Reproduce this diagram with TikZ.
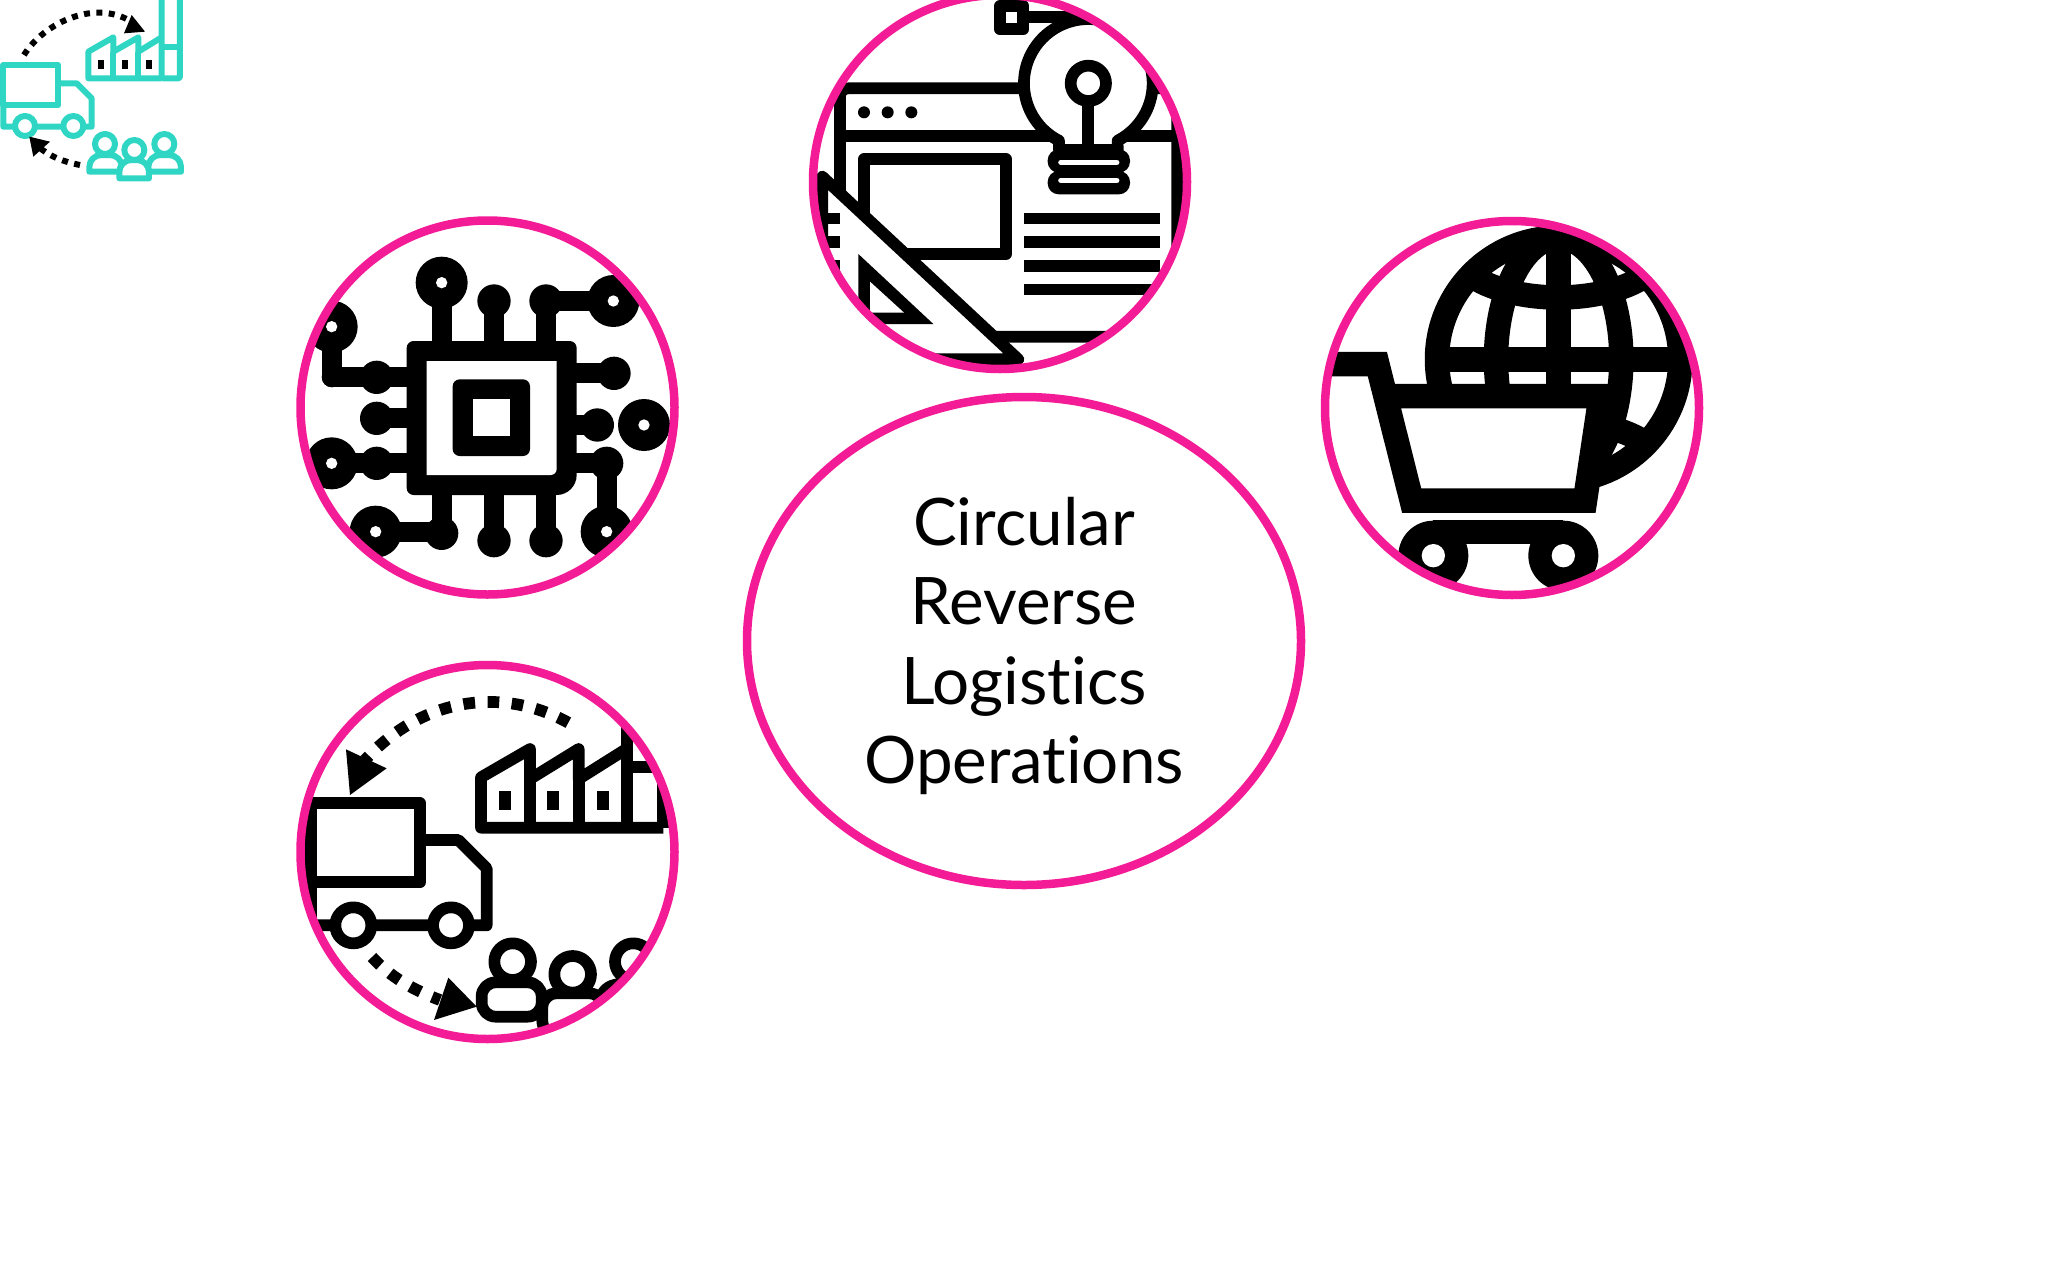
\documentclass[tikz,border=0pt]{standalone}
\usepackage{fontspec}
\usetikzlibrary{shapes.geometric}
\newfontfamily\labelfont[Ligatures={NoCommon}]{Lato}
\definecolor{ringpink}{HTML}{F41B96}
\definecolor{iconteal}{HTML}{2FD6C3}
\tikzset{
  ring/.style={circle,draw=ringpink,line width=8.5pt,minimum size=374pt,inner sep=0pt},
  hubring/.style={ellipse,draw=ringpink,line width=8.5pt,minimum width=554pt,minimum height=488pt,inner sep=0pt},
  hublabel/.style={inner sep=0pt,align=center,font=\labelfont\fontsize{65.5}{79.2}\selectfont},
  zoomed/.style 2 args={shift={(#1,#2)},x=0.33333pt,y=-0.33333pt},
  tealline/.style={draw=iconteal,line width=6pt,line join=round},
  blackline/.style={draw=black,line width=11.7pt,line join=round},
  dotted path/.style={draw=black,line width=#1,dash pattern=on #1 off 1.07*#1}
}
\begin{document}
\begin{tikzpicture}[x=1pt,y=-1pt]
  \useasboundingbox (0,0) rectangle (2048,1280);
  \clip (0,0) rectangle (2048,1280);
  \coordinate (chipc) at (487.5,407.5);
  \coordinate (truckc) at (487.5,852);
  \coordinate (ideac) at (1000,182);
  \coordinate (cartc) at (1512,408);

  % teal logo
  \begin{scope}[zoomed={0}{0}]
    \draw[tealline,rounded corners=1.5pt] (485,-10) rectangle (540,235);
    \draw[tealline] (485,140) -- (540,140);
    \draw[tealline] (485,112) -- (415,155) -- (415,112) -- (340,155) -- (340,112) -- (265,155) -- (265,235) -- (485,235);
    \draw[tealline] (340,155) -- (340,235) (415,155) -- (415,235);
    \foreach \x in {302,375,448}
      \fill (\x-9,179) rectangle (\x+9,206);
    \draw[tealline] (175,250) -- (230,250) -- (275,295) -- (275,380) -- (10,380) -- (10,315);
    \draw[tealline] (10,195) rectangle (175,315);
    \foreach \x in {75,220}
      \draw[tealline,fill=white] (\x,378) circle (30);
    \foreach \x/\y in {268/465,445/465}
      \draw[tealline,fill=white] (\x,515) [rounded corners=12pt] -- (\x,\y) -- (\x+98,\y) [sharp corners] -- (\x+98,515) -- cycle;
    \draw[tealline,fill=white] (358,535) [rounded corners=12pt] -- (358,480) -- (447,480) [sharp corners] -- (447,535) -- cycle;
    \foreach \x/\y in {315/432,403/450,493/432}
      \draw[tealline,fill=white] (\x,\y) circle (30);
    \path[dotted path=6pt] (72,165) .. controls (130,70) and (290,-10) .. (405,72);
    \fill (435,95) -- (395,45) -- (372,100) -- cycle;
    \path[dotted path=6pt] (240,495) .. controls (190,485) and (150,470) .. (115,440);
    \fill (88,410) -- (100,470) -- (150,425) -- cycle;
  \end{scope}

  % chip
  \begin{scope}
    \clip (chipc) circle (187);
    \begin{scope}[zoomed={290}{210},line width=20pt]
      \foreach \xa/\ya/\xb/\yb in {455/400/455/218,612/400/612/273,768/400/768/273,768/273/970/273,
        850/490/972/490,850/645/922/645,850/760/950/760,950/760/950/965,
        455/850/455/970,455/965/257/965,612/850/612/992,768/850/768/992,
        360/502/125/502,125/502/125/350,360/625/260/625,360/760/125/760}
        \draw[line cap=round] (\xa,\ya) -- (\xb,\yb);
      \foreach \x/\y in {612/273,768/273,972/490,922/645,950/760,455/970,612/992,768/992,260/502,260/625,260/760}
        \fill (\x,\y) circle (50);
      \foreach \x/\y in {455/218,970/273,1062/645,950/965,257/965,125/760,125/350} {
        \fill (\x,\y) circle (78);
        \fill[white] (\x,\y) circle (17);
      }
      \fill[rounded corners=7pt] (350,393) -- (860,393) [rounded corners=20pt] -- (860,855) [rounded corners=7pt] -- (350,855) -- cycle;
      \fill[white] (410,453) -- (800,453) [rounded corners=6pt] -- (800,795) [sharp corners] -- (410,795) -- cycle;
      \fill[rounded corners=7pt] (488,508) rectangle (720,738);
      \fill[white] (548,568) rectangle (660,678);
    \end{scope}
  \end{scope}

  % truck
  \begin{scope}
    \clip (truckc) circle (187);
    \begin{scope}[zoomed={290}{655}]
      \draw[blackline] (1012,180) -- (1012,518) (1120,180) -- (1120,518) (1012,335) -- (1120,335);
      \draw[blackline] (1012,280) -- (866,372) -- (866,282) -- (720,372) -- (720,282) -- (573,367) -- (573,518) -- (1120,518);
      \draw[blackline] (720,372) -- (720,518) (866,372) -- (866,518);
      \foreach \x in {646,790,938}
        \fill (\x-18,408) rectangle (\x+18,464);
      \draw[blackline] (390,555) -- (505,555) -- (590,640) -- (590,811) -- (63,811) -- (63,682);
      \draw[blackline] (63,445) rectangle (390,682);
      \foreach \x in {190,483}
        \draw[blackline,fill=white] (\x,811) circle (54);
      \path[dotted path=11.7pt] (835,203) .. controls (640,95) and (400,125) .. (225,315);
      \fill (180,420) -- (168,283) -- (290,340) -- cycle;
      \path[dotted path=11.7pt] (246,906) .. controls (300,965) and (370,1005) .. (450,1035);
      \fill (560,1055) -- (475,968) -- (432,1095) -- cycle;
      \draw[blackline,fill=white] (1030,920) circle (55);
      \draw[blackline,fill=white,rounded corners=14pt] (930,1100) -- (930,1000) -- (1100,960) -- (1100,1100) -- cycle;
      \draw[blackline,fill=white,rounded corners=14pt] (757,1140) -- (757,1015) -- (940,1015) -- (940,1140) -- cycle;
      \draw[blackline,fill=white] (848,958) circle (55);
      \draw[blackline,fill=white,rounded corners=14pt] (575,1085) -- (575,982) -- (755,982) -- (755,1085) -- cycle;
      \draw[blackline,fill=white] (668,920) circle (55);
    \end{scope}
  \end{scope}

  % window with bulb and set square
  \begin{scope}
    \clip (ideac) circle (187);
    \begin{scope}[zoomed={805}{0}]
      \draw[blackline,rounded corners=8pt] (105,1200) -- (105,265) -- (1117,265) -- (1117,1010) -- (300,1010);
      \draw[blackline] (105,407) -- (1117,407);
      \foreach \x in {177,248,319}
        \fill (\x,337) circle (18);
      \draw[blackline] (177,478) rectangle (603,762);
      \foreach \y in {655,726,797,868}
        \fill (656,\y-17.5) rectangle (1065,\y+17.5);
      \draw[blackline] (585,18) rectangle (655,88);
      \draw[blackline] (655,52) -- (850,52);
      \draw[blackline,fill=white] (762,450) -- (762,422) arc (117.1:422.9:193) -- (938,450) -- cycle;
      \draw[blackline] (850,303) -- (850,445);
      \draw[blackline,fill=white] (850,250) circle (53);
      \foreach \y in {448,513}
        \fill[rounded corners=11pt] (728,\y) rectangle (975,\y+70);
      \foreach \y in {487,541}
        \draw[white,line width=5.6pt,line cap=round] (768,\y) -- (935,\y);
      \draw[blackline,fill=white] (52,530) -- (640,1078) -- (52,1078) -- cycle;
      \foreach \y in {655,726,797}
        \fill (52,\y-17.5) rectangle (105,\y+17.5);
      \fill (160,762) -- (385,972) -- (160,972) -- cycle;
      \fill[white] (195,845) -- (297,938) -- (195,938) -- cycle;
    \end{scope}
  \end{scope}

  % cart with globe
  \begin{scope}
    \clip (cartc) circle (187);
    \begin{scope}[zoomed={1320}{210},line width=24.5pt]
      \draw (716,448) circle (365);
      \draw (716,448) ellipse (188 and 365);
      \draw (716,80) -- (716,820) (350,448) -- (1080,448);
      \draw (430,180) .. controls (560,290) and (870,290) .. (1000,180);
      \draw (430,716) .. controls (560,606) and (870,606) .. (1000,716);
      \draw[fill=white,miter limit=4] (0,462) -- (172,462) -- (275,872) -- (795,872) -- (842,558) -- (210,558);
      \fill (340,930) rectangle (730,1003);
      \foreach \x in {340,730} {
        \fill (\x,1037) circle (105);
        \fill[white] (\x,1037) circle (35);
      }
    \end{scope}
  \end{scope}

  \node[ring] (chipring) at (chipc) {};
  \node[ring] (truckring) at (truckc) {};
  \node[ring] (idearing) at (ideac) {};
  \node[ring] (cartring) at (cartc) {};
  \node[hubring] (hub) at (1024,641) {};
  \node[hublabel] (hubtext) at ([yshift=-5pt]hub.center) {Circular\\Reverse\\Logistics\\Operations};
\end{tikzpicture}
\end{document}
